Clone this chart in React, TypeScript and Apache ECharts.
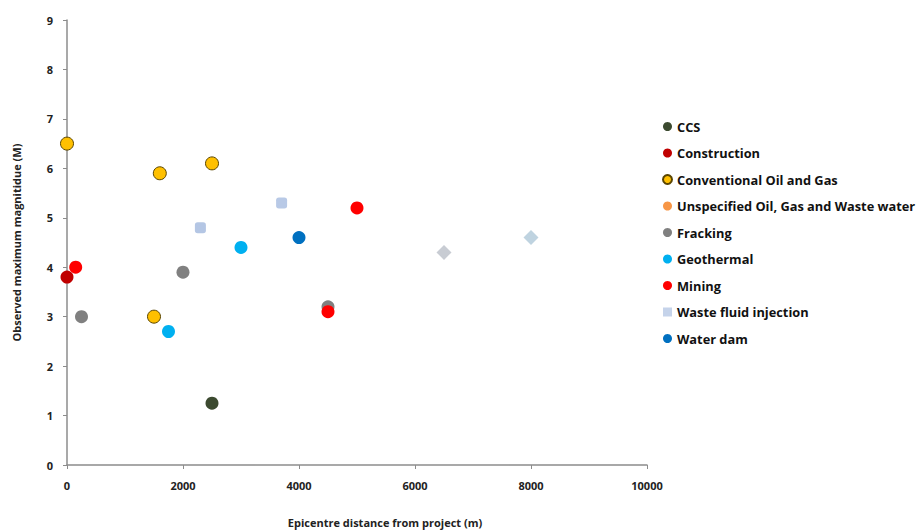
import React, { useEffect, useRef } from "react";
import * as echarts from "echarts";

const seriesNames = [
  "CCS",
  "Construction",
  "Conventional Oil and Gas",
  "Unspecified Oil, Gas and Waste water",
  "Fracking",
  "Geothermal",
  "Mining",
  "Waste fluid injection",
  "Water dam",
];

const ccs = [[2500, 1.25]];
const construction = [[0, 3.8]];
const conventionalOilGas = [
  [0, 6.5],
  [1600, 5.9],
  [2500, 6.1],
  [1500, 3.0],
];
const unspecified: number[][] = [];
const fracking = [
  [250, 3.0],
  [2000, 3.9],
  [4500, 3.2],
];
const geothermal = [
  [1750, 2.7],
  [3000, 4.4],
];
const mining = [
  [150, 4.0],
  [4500, 3.1],
  [5000, 5.2],
];
const wasteFluid = [
  [2300, 4.8],
  [3700, 5.3],
  [6500, 4.3],
  [8000, 4.6],
];
const wasteFluidSymbols = ["roundRect", "roundRect", "diamond", "diamond"];
const wasteFluidColors = ["#b4c6e4", "#b8c9e6", "#c8ccd3", "#bfd3e0"];
const waterDam = [[4000, 4.6]];

const xTicks = [0, 2000, 4000, 6000, 8000, 10000];
const yTicks = [0, 1, 2, 3, 4, 5, 6, 7, 8, 9];

const colors = [
  "#3c4a30",
  "#c00000",
  "#ffc000",
  "#f79646",
  "#808080",
  "#00b0f0",
  "#ff0000",
  "#c5d3ea",
  "#0070c0",
];

export default function App() {
  const ref = useRef<HTMLDivElement>(null);
  useEffect(() => {
    if (!ref.current) return;
    const chart = echarts.init(ref.current, undefined, { renderer: "svg" });
    const font = "'Open Sans', 'DejaVu Sans', sans-serif";
    const dataSets = [
      ccs,
      construction,
      conventionalOilGas,
      unspecified,
      fracking,
      geothermal,
      mining,
      wasteFluid,
      waterDam,
    ];
    const series = seriesNames.map((name, i) => {
      const base: any = {
        name,
        type: "scatter",
        symbol: "circle",
        symbolSize: 13,
        itemStyle: { color: colors[i], opacity: 1 },
        data: dataSets[i],
      };
      if (i === 2) {
        base.itemStyle = { color: colors[i], borderColor: "#5a4500", borderWidth: 1, opacity: 1 };
      }
      if (i === 7) {
        base.data = wasteFluid.map((p, k) => ({
          value: p,
          symbol: wasteFluidSymbols[k],
          symbolSize: wasteFluidSymbols[k] === "diamond" ? 15 : 11,
          itemStyle: { color: wasteFluidColors[k], opacity: 1 },
        }));
        base.symbol = "rect";
      }
      return base;
    });
    chart.setOption({
      animation: false,
      backgroundColor: "#ffffff",
      color: colors,
      grid: { left: 67, right: 270, top: 20, bottom: 65, outerBoundsMode: "none" },
      legend: {
        orient: "vertical",
        left: 657,
        top: 115,
        itemWidth: 9,
        itemHeight: 9,
        itemGap: 13.5,
        textStyle: { fontFamily: font, fontWeight: "bold", fontSize: 12.8, color: "#111" },
        data: seriesNames.map((n, i) => ({
          name: n,
          icon: i === 7 ? "rect" : "circle",
        })),
      },
      xAxis: {
        type: "value",
        min: 0,
        max: 10000,
        interval: 2000,
        name: "Epicentre distance from project (m)",
        nameLocation: "middle",
        nameGap: 52,
        nameTextStyle: {
          fontFamily: font,
          fontWeight: "bold",
          fontSize: 11,
          color: "#222",
          padding: [0, 0, 0, 56],
        },
        axisLine: { lineStyle: { color: "#8c8c8c", width: 1.5 } },
        axisTick: { show: true, length: 4, lineStyle: { color: "#8c8c8c" } },
        axisLabel: {
          fontFamily: font,
          fontWeight: "bold",
          fontSize: 11,
          color: "#222",
          margin: 15,
          formatter: (v: number) => (xTicks.includes(v) ? String(v) : ""),
        },
        splitLine: { show: false },
      },
      yAxis: {
        type: "value",
        min: 0,
        max: 9,
        interval: 1,
        name: "Observed maximum magnitidue (M)",
        nameLocation: "middle",
        nameGap: 45,
        nameTextStyle: { fontFamily: font, fontWeight: "bold", fontSize: 11, color: "#222" },
        axisLine: { show: true, lineStyle: { color: "#8c8c8c", width: 1.5 } },
        axisTick: { show: true, length: 4, lineStyle: { color: "#8c8c8c" } },
        axisLabel: {
          fontFamily: font,
          fontWeight: "bold",
          fontSize: 11,
          color: "#222",
          margin: 14,
          formatter: (v: number) => (yTicks.includes(v) ? String(v) : ""),
        },
        splitLine: { show: false },
      },
      series,
    });
    return () => chart.dispose();
  }, []);
  return (
    <div
      ref={ref}
      style={{ position: "fixed", left: 0, top: 0, width: 917, height: 530 }}
    />
  );
}
